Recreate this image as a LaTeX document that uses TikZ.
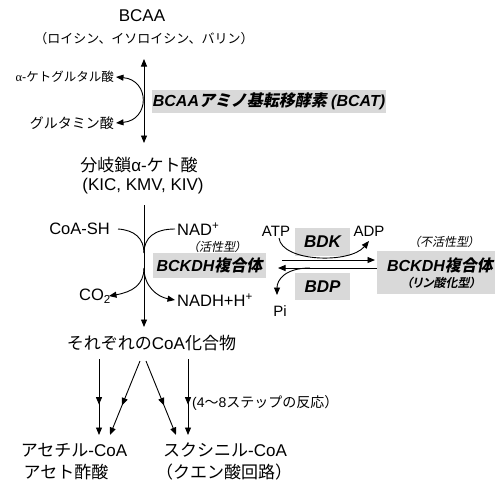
\documentclass[tikz,border=0pt]{standalone}
\usepackage{fontspec}
\setmainfont{Liberation Sans}
\newfontfamily\jpreg{Noto Sans CJK JP}
\newfontfamily\jpitp{Noto Sans CJK JP}[FakeSlant=0.2,RawFeature=+palt]
\newfontfamily\jpbi{Noto Sans CJK JP Bold}[FakeSlant=0.2]
\newfontfamily\jpbip{Noto Sans CJK JP Bold}[FakeSlant=0.2,RawFeature=+palt]
\newfontfamily\grserif{Liberation Serif}
\usetikzlibrary{arrows.meta,decorations.markings}
\newcommand\JA[1]{{\jpreg #1}}
\newcommand\JIP[1]{{\jpitp #1}}
\newcommand\JBI[1]{{\jpbi #1}}
\newcommand\JBIP[1]{{\jpbip #1}}
\newcommand\fsz[1]{\fontsize{#1}{#1}\selectfont}
\definecolor{boxgray}{RGB}{217,217,217}
\tikzset{
  ln/.style={line width=0.9pt},
  arr/.style={ln, -{Triangle[length=7.5pt,width=6pt]}},
  darr/.style={ln, {Triangle[length=7.5pt,width=6pt]}-{Triangle[length=7.5pt,width=6pt]}},
  gbox/.style={fill=boxgray, inner sep=0pt},
  lbl/.style={inner sep=0pt},
  midarr/.style={postaction={decorate}, decoration={markings, mark=at position 0.6 with {\arrow{Triangle[length=7.5pt,width=6pt]}}}},
}
\begin{document}
\begin{tikzpicture}[x=1pt,y=-1pt]
\useasboundingbox[fill=white] (0,0) rectangle (496,483);
% top
\node[lbl, font=\fsz{17}] (bcaa) at (142,16) {BCAA};
\node[lbl, font=\fsz{13}] (aa) at (144,39) {\JA{（ロイシン、イソロイシン、バリン）}};
\coordinate (b1) at (144,59);
\coordinate (b2) at (144,143);
\draw[darr] (b1) -- (b2);
\node[lbl, anchor=east, font=\fsz{12.5}] (akg) at (114,77) {{\grserif α}-\JA{ケトグルタル酸}};
\node[lbl, anchor=east, font=\fsz{14}] (glu) at (114,123) {\JA{グルタミン酸}};
\draw[darr] ([xshift=2pt]akg.east) .. controls (150,80) and (150,120) .. ([xshift=2pt]glu.east);
\node[gbox, minimum width=234pt, minimum height=23pt, font=\fsz{16}\bfseries\itshape] (bcat) at (269,101.5) {BCAA\JBI{アミノ基転移酵素} (BCAT)};
\node[lbl, font=\fsz{17}] (kc) at (139,165) {\JA{分岐鎖}α-\JA{ケト酸}};
\node[lbl, font=\fsz{17}] (kic) at (143,186) {(KIC, KMV, KIV)};
% BCKDH step
\coordinate (m1) at (144,205);
\coordinate (m2) at (144,327);
\coordinate (j1) at (144,253);
\coordinate (j2) at (144,268);
\draw[arr] (m1) -- (m2);
\node[lbl, anchor=east, font=\fsz{16.5}] (coash) at (110,229) {CoA-SH};
\node[lbl, anchor=west, font=\fsz{16.5}] (nad) at (177,229) {NAD\textsuperscript{+}};
\draw[ln] ([xshift=8pt]coash.east) .. controls (134,230) and (144,238) .. (j1);
\draw[ln] ([xshift=-2pt]nad.west) .. controls (154,229) and (144,238) .. (j1);
\node[lbl, anchor=east, font=\fsz{16.5}] (co2) at (111,296) {CO\textsubscript{2}};
\node[lbl, anchor=west, font=\fsz{16.5}] (nadh) at (177,300) {NADH+H\textsuperscript{+}};
\draw[arr] (j2) .. controls (144,285) and (132,292) .. ([xshift=-2pt]co2.east);
\draw[arr] (j2) .. controls (144,287) and (158,297) .. ([xshift=-2pt]nadh.west);
\node[gbox, minimum width=113pt, minimum height=25pt, font=\fsz{16}\bfseries\itshape] (bk1) at (209.5,265.5) {BCKDH\JBI{複合体}};
\node[lbl, font=\fsz{12}] (act) at (217,247) {\JIP{（活性型）}};
% right complex
\node[gbox, minimum width=118pt, minimum height=43pt] (bk2) at (436,272.5) {};
\node[lbl, font=\fsz{16}\bfseries\itshape] (bk2a) at (440,265) {BCKDH\JBI{複合体}};
\node[lbl, font=\fsz{12}] (bk2b) at (441,283) {\JBIP{（リン酸化型）}};
\node[lbl, font=\fsz{12}] (inact) at (444,242) {\JIP{（不活性型）}};
\node[gbox, minimum width=55pt, minimum height=28pt, font=\fsz{17}\bfseries\itshape] (bdk) at (322.5,241.5) {BDK};
\node[gbox, minimum width=55pt, minimum height=27pt, font=\fsz{17}\bfseries\itshape] (bdp) at (322.5,286.5) {BDP};
\node[lbl, font=\fsz{15}] (atp) at (276,231) {ATP};
\node[lbl, font=\fsz{15}] (adp) at (369,231) {ADP};
\node[lbl, font=\fsz{15}] (pi) at (280,311) {Pi};
\coordinate (fa) at (282,260);
\coordinate (fb) at (375,260);
\coordinate (ba) at (377,268);
\coordinate (bb) at (278,268);
\draw[arr] (fa) -- (fb);
\draw[arr] (ba) -- (bb);
\coordinate (c1) at (279,238);
\coordinate (c2) at (369,241);
\draw[arr] (c1) .. controls (282,262) and (350,264) .. (c2);
\coordinate (p1) at (310,268);
\coordinate (p2) at (277,295);
\draw[arr] (p1) .. controls (285,268) and (277,280) .. (p2);
% bottom
\node[lbl, font=\fsz{17}] (coa) at (151.5,343) {\JA{それぞれの}CoA\JA{化合物}};
\coordinate (s1) at (99,359);  \coordinate (e1) at (99,435);
\coordinate (s2) at (140,361); \coordinate (e2) at (110,435);
\coordinate (s3) at (146,361); \coordinate (e3) at (176,435);
\coordinate (s4) at (188,359); \coordinate (e4) at (188,435);
\draw[arr, midarr] (s1) -- (e1);
\draw[arr, midarr] (s2) -- (e2);
\draw[arr, midarr] (s3) -- (e3);
\draw[arr, midarr] (s4) -- (e4);
\node[lbl, anchor=west, font=\fsz{14}] (steps) at (192,403) {(4\JA{〜}8\JA{ステップの反応）}};
\node[lbl, font=\fsz{17}] (acoa) at (74,450) {\JA{アセチル}-CoA};
\node[lbl, font=\fsz{17}] (aceto) at (66,472) {\JA{アセト酢酸}};
\node[lbl, font=\fsz{17}] (scoa) at (225,450) {\JA{スクシニル}-CoA};
\node[lbl, font=\fsz{17}] (tca) at (224,472) {\JA{（クエン酸回路）}};
\end{tikzpicture}
\end{document}
